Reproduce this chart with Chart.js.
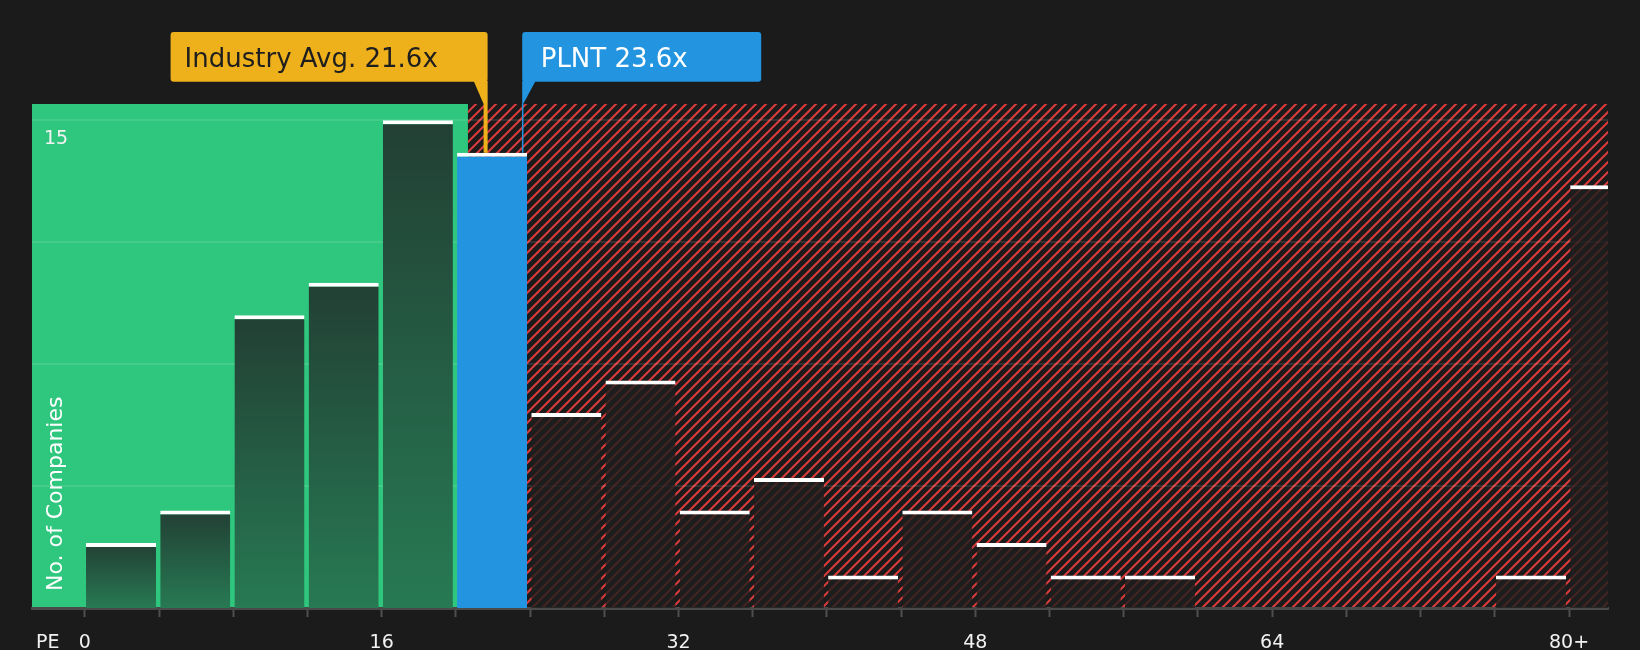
<!DOCTYPE html>
<html>
<head>
<meta charset="utf-8">
<title>PE distribution</title>
<script src="https://cdn.jsdelivr.net/npm/chart.js@4.4.1/dist/chart.umd.min.js"></script>
<style>
    html, body { margin: 0; padding: 0; background: #1b1b1b; }
    #wrap { position: relative; width: 1640px; height: 650px; }
</style>
</head>
<body>
<div id="wrap"><canvas id="pe-chart"></canvas></div>
<script>
// Data
const binWidth = 4;
const binStarts = [0, 4, 8, 12, 16, 20, 24, 28, 32, 36, 40, 44, 48, 52, 56, 60, 64, 68, 72, 76, 80];
const companyCounts = [2, 3, 9, 10, 15, 14, 6, 7, 3, 4, 1, 3, 2, 1, 1, 0, 0, 0, 0, 1, 13];
const xTickValues = [0, 4, 8, 12, 16, 20, 24, 28, 32, 36, 40, 44, 48, 52, 56, 60, 64, 68, 72, 76, 80];
const xTickLabels = { 0: '0', 16: '16', 32: '32', 48: '48', 64: '64', 80: '80+' };
const yGridValues = [3.75, 7.5, 11.25, 15];
const yTickLabels = { 15: '15' };
const industryAvg = 21.6;
const companyPE = 23.6;
const companyName = 'PLNT';
const greenUpTo = 20.65;

// Colours
const BG = '#1b1b1b';
const GREEN = '#2ec77d';
const BLUE = '#2394df';
const ORANGE = '#eeb11c';
const HATCH_RED = '#dc3b3b';

Chart.defaults.font.family = "'DejaVu Sans', sans-serif";

function makeHatch() {
    const s = 10;
    const c = document.createElement('canvas');
    c.width = s;
    c.height = s;
    const g = c.getContext('2d');
    g.fillStyle = BG;
    g.fillRect(0, 0, s, s);
    g.strokeStyle = HATCH_RED;
    g.lineWidth = 2;
    g.beginPath();
    g.moveTo(0, s); g.lineTo(s, 0);
    g.moveTo(-s / 2, s / 2); g.lineTo(s / 2, -s / 2);
    g.moveTo(s / 2, s * 1.5); g.lineTo(s * 1.5, s / 2);
    g.stroke();
    return c;
}

function barFill(c) {
    const start = binStarts[c.dataIndex];
    if (start <= companyPE && companyPE < start + binWidth) return BLUE;
    if (start + binWidth <= greenUpTo) {
        const yScale = c.chart.scales.y;
        if (!yScale || !c.parsed) return '#245a44';
        const top = yScale.getPixelForValue(c.parsed.y);
        const bottom = yScale.getPixelForValue(0);
        if (!isFinite(top) || !isFinite(bottom) || top === bottom) return '#245a44';
        const grad = c.chart.ctx.createLinearGradient(0, top, 0, bottom);
        grad.addColorStop(0, '#223f34');
        grad.addColorStop(1, '#277a53');
        return grad;
    }
    return 'rgba(30, 30, 30, 0.8)';
}

// green / red zones behind the bars
const zonesPlugin = {
    id: 'zones',
    beforeDraw(chart) {
        const { ctx, chartArea: a, scales: { x } } = chart;
        ctx.save();
        ctx.fillStyle = BG;
        ctx.fillRect(0, 0, chart.width, chart.height);
        const edge = x.getPixelForValue(greenUpTo);
        ctx.fillStyle = GREEN;
        ctx.fillRect(a.left, a.top, edge - a.left, a.bottom - a.top);
        ctx.fillStyle = ctx.createPattern(makeHatch(), 'repeat');
        ctx.fillRect(edge, a.top, a.right - edge, a.bottom - a.top);
        ctx.restore();
    }
};

function countAt(value) {
    return companyCounts[Math.floor(value / binWidth)];
}

function roundRect(ctx, x, y, w, h, r) {
    ctx.beginPath();
    ctx.moveTo(x + r, y);
    ctx.lineTo(x + w - r, y);
    ctx.quadraticCurveTo(x + w, y, x + w, y + r);
    ctx.lineTo(x + w, y + h - r);
    ctx.quadraticCurveTo(x + w, y + h, x + w - r, y + h);
    ctx.lineTo(x + r, y + h);
    ctx.quadraticCurveTo(x, y + h, x, y + h - r);
    ctx.lineTo(x, y + r);
    ctx.quadraticCurveTo(x, y, x + r, y);
    ctx.closePath();
}

// marker boxes, axis captions
const markersPlugin = {
    id: 'markers',
    afterDatasetsDraw(chart) {
        const { ctx, chartArea: a, scales: { x, y } } = chart;
        const boxTop = 32, boxBottom = 81.7;
        ctx.save();

        // Industry average
        let lx = x.getPixelForValue(industryAvg);
        let barTop = y.getPixelForValue(countAt(industryAvg));
        ctx.fillStyle = ORANGE;
        ctx.fillRect(lx - 2, a.top, 4, barTop - a.top);
        ctx.beginPath();
        ctx.moveTo(lx - 12, boxBottom - 1);
        ctx.lineTo(lx + 2, boxBottom - 1);
        ctx.lineTo(lx + 2, a.top);
        ctx.lineTo(lx - 2, a.top);
        ctx.closePath();
        ctx.fill();
        roundRect(ctx, lx + 2 - 317, boxTop, 317, boxBottom - boxTop, 3);
        ctx.fill();
        ctx.fillStyle = '#1e1e1e';
        ctx.font = "26px 'DejaVu Sans'";
        ctx.textBaseline = 'alphabetic';
        ctx.textAlign = 'left';
        ctx.fillText('Industry Avg. ' + industryAvg.toFixed(1) + 'x', lx + 2 - 317 + 14, 66.5);

        // Company
        lx = x.getPixelForValue(companyPE);
        barTop = y.getPixelForValue(countAt(companyPE));
        ctx.fillStyle = BLUE;
        ctx.fillRect(lx - 0.75, a.top, 1.5, barTop - a.top);
        ctx.beginPath();
        ctx.moveTo(lx - 0.5, boxBottom - 1);
        ctx.lineTo(lx + 13, boxBottom - 1);
        ctx.lineTo(lx + 0.5, a.top);
        ctx.lineTo(lx - 0.5, a.top);
        ctx.closePath();
        ctx.fill();
        roundRect(ctx, lx - 0.5, boxTop, 239, boxBottom - boxTop, 3);
        ctx.fill();
        ctx.fillStyle = '#ffffff';
        ctx.fillText(companyName + ' ' + companyPE.toFixed(1) + 'x', lx - 0.5 + 18.5, 66.5);

        // axis captions
        ctx.fillStyle = '#f2f2f2';
        ctx.font = "19px 'DejaVu Sans'";
        ctx.fillText('PE', 36, 648);
        ctx.translate(62, 591);
        ctx.rotate(-Math.PI / 2);
        ctx.font = "22px 'DejaVu Sans'";
        ctx.fillStyle = '#ffffff';
        ctx.fillText('No. of Companies', 0, 0);
        ctx.restore();
    }
};

const chart = new Chart(document.getElementById('pe-chart'), {
    type: 'bar',
    data: {
        datasets: [{
            data: binStarts.map((s, i) => ({ x: s + binWidth / 2 - 0.05, y: companyCounts[i] })),
            backgroundColor: barFill,
            borderColor: '#ffffff',
            borderWidth: { top: 4, left: 0, right: 0, bottom: 0 },
            borderSkipped: false,
            categoryPercentage: 1,
            barPercentage: 0.944,
            clip: 0
        }]
    },
    options: {
        responsive: true,
        maintainAspectRatio: false,
        animation: false,
        events: [],
        layout: { padding: { top: 104, left: 32, right: 32, bottom: 0 } },
        plugins: {
            legend: { display: false },
            tooltip: { enabled: false }
        },
        scales: {
            x: {
                type: 'linear',
                offset: false,
                min: -2.85,
                max: 82.1,
                afterBuildTicks: s => { s.ticks = xTickValues.map(v => ({ value: v })); },
                afterFit: s => { s.height = 42; },
                grid: {
                    offset: false,
                    drawOnChartArea: false,
                    drawTicks: true,
                    tickLength: 9,
                    tickWidth: 2,
                    tickColor: '#4f4f4f'
                },
                border: { color: '#4a4a4a', width: 3 },
                ticks: {
                    autoSkip: false,
                    maxRotation: 0,
                    padding: 15,
                    color: '#f2f2f2',
                    font: { size: 19 },
                    callback: v => xTickLabels[v] ?? ''
                }
            },
            y: {
                min: 0,
                max: 15.5,
                afterBuildTicks: s => { s.ticks = yGridValues.map(v => ({ value: v })); },
                afterFit: s => { s.width = 0; },
                grid: {
                    color: 'rgba(255, 255, 255, 0.1)',
                    lineWidth: 2,
                    drawTicks: false
                },
                border: { display: false },
                ticks: {
                    mirror: true,
                    padding: 12,
                    labelOffset: 18.5,
                    color: '#f2f2f2',
                    font: { size: 19 },
                    callback: v => yTickLabels[v] ?? ''
                }
            }
        }
    },
    plugins: [zonesPlugin, markersPlugin]
});
</script>
</body>
</html>
